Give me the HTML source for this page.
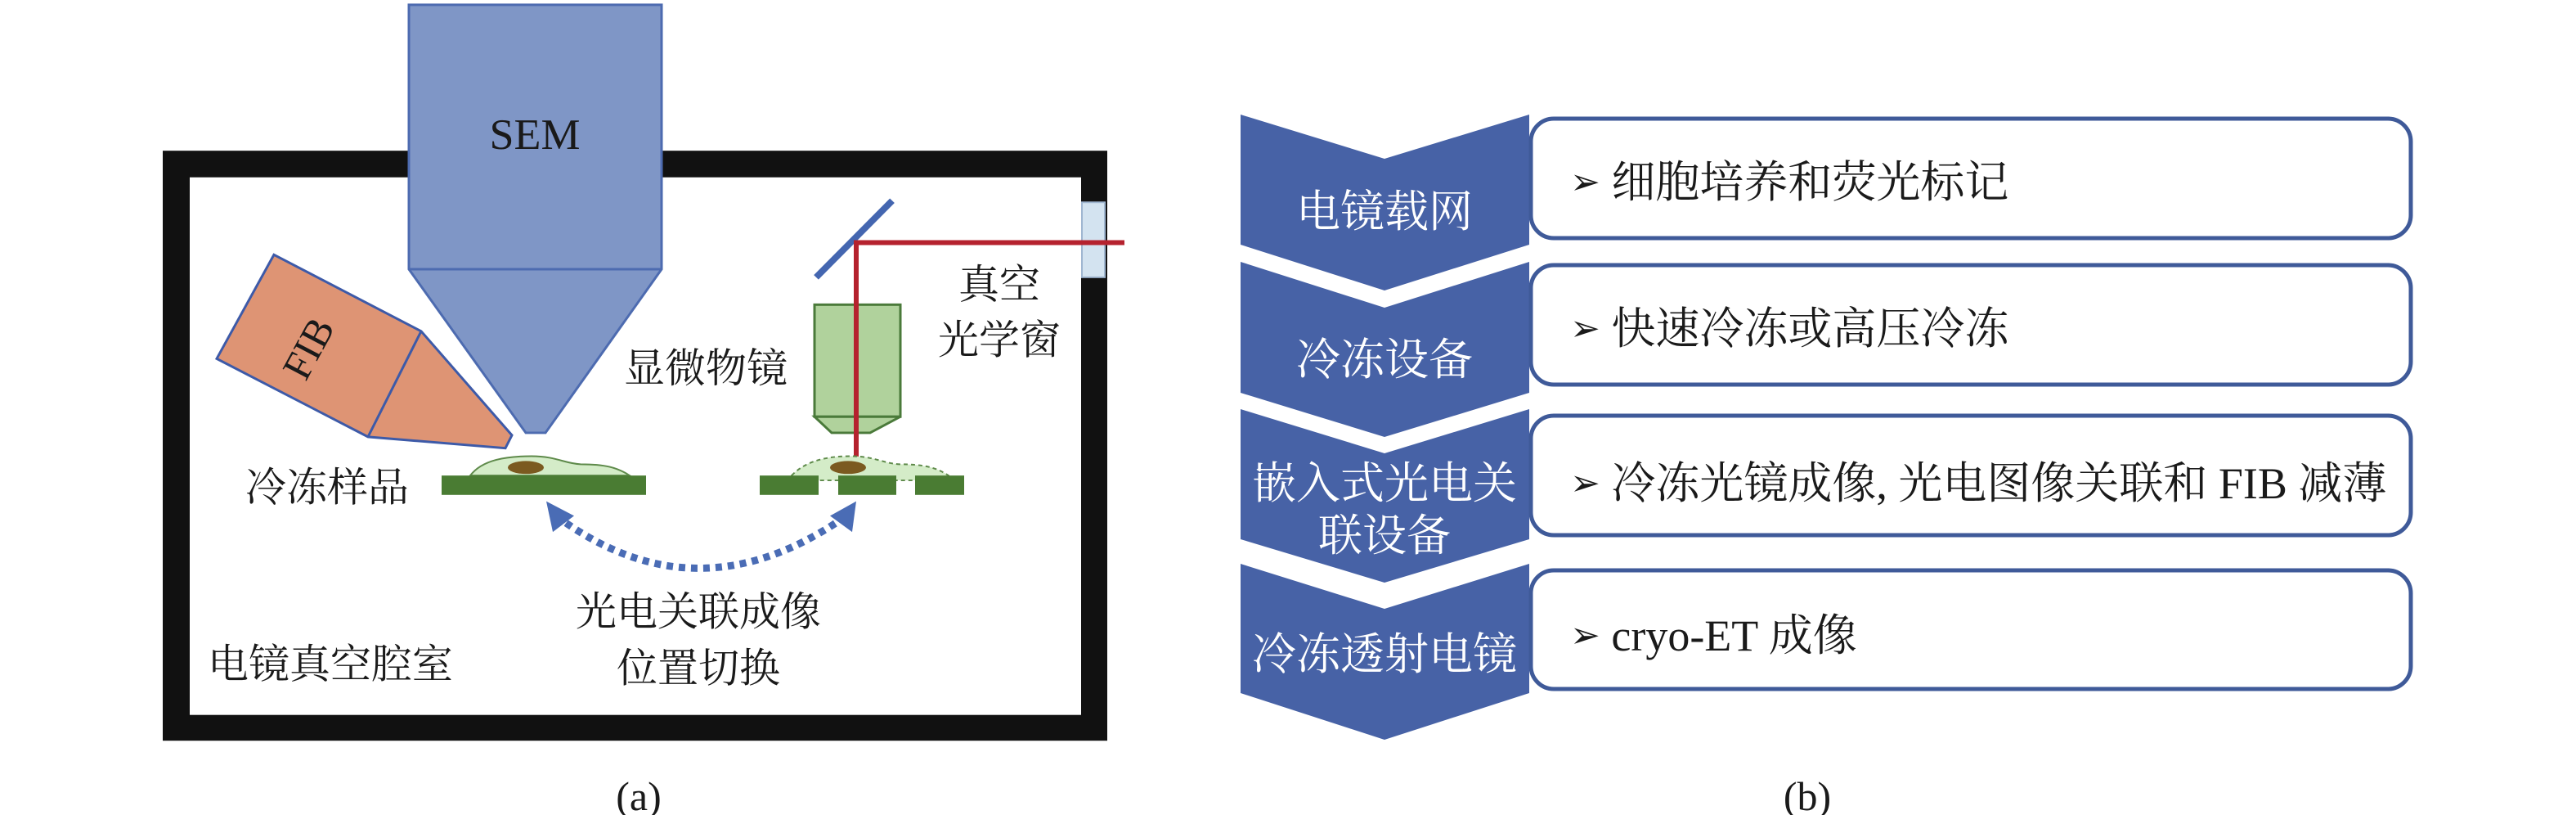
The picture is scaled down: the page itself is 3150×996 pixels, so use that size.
<!DOCTYPE html>
<html><head><meta charset="utf-8"><style>
html,body{margin:0;padding:0;background:#fff;}
svg{display:block;}
.s{font-family:"Liberation Serif","Noto Serif CJK SC",serif;}
</style></head><body>
<svg width="3150" height="996" viewBox="0 0 3150 996" xmlns="http://www.w3.org/2000/svg">
<g transform="scale(1,0.985)">
<!-- Panel a frame -->
<rect x="199" y="187" width="1155" height="732" fill="#111"/>
<rect x="232" y="220" width="1090" height="667" fill="#fff"/>
<rect x="1323" y="251" width="28" height="93" fill="#d3e3f0" stroke="#9fb6d0" stroke-width="2"/>
<polygon points="500,6 809,6 809,334 667,537 643,537 500,334" fill="#7f96c6" stroke="#4d6bb0" stroke-width="3"/>
<line x1="500" y1="334" x2="809" y2="334" stroke="#4d6bb0" stroke-width="3"/>
<text x="654" y="185" text-anchor="middle" class="s" font-size="54" fill="#1a1a1a">SEM</text>
<polygon points="335,316 515,411 626,540 618,556 450,542 265,445" fill="#de9474" stroke="#3d5aa8" stroke-width="3"/>
<line x1="515" y1="411" x2="450" y2="542" stroke="#3d5aa8" stroke-width="3"/>
<text x="0" y="0" class="s" font-size="50" fill="#1a1a1a" text-anchor="middle" transform="translate(392,440) rotate(-62)">FIB</text>
<line x1="998" y1="344" x2="1091" y2="249" stroke="#4466b0" stroke-width="8"/>
<rect x="996" y="378" width="105" height="139" fill="#b0d29c" stroke="#4a7a3a" stroke-width="3"/>
<polygon points="996,517 1101,517 1064,537 1017,537" fill="#b0d29c" stroke="#4a7a3a" stroke-width="3"/>
<polyline points="1047,575 1047,301 1375,301" fill="none" stroke="#b5222e" stroke-width="6"/>
<path d="M575,590 C590,570 620,566 650,566 C680,566 690,575 710,576 C740,576 755,580 770,590 Z" fill="#d4ecc8" stroke="#5e8a4a" stroke-width="2"/>
<ellipse cx="643" cy="580" rx="22" ry="8" fill="#7b5a20"/>
<rect x="540" y="590" width="250" height="24" fill="#4a7c33"/>
<path d="M968,590 C985,572 1010,566 1040,566 C1070,566 1080,575 1100,576 C1130,576 1145,580 1160,590 L1160,596 L968,596 Z" fill="#d4ecc8" stroke="#5e8a4a" stroke-width="2" stroke-dasharray="5,4"/>
<ellipse cx="1037" cy="580" rx="22" ry="8" fill="#7b5a20"/>
<rect x="929" y="590" width="72" height="24" fill="#4a7c33"/>
<rect x="1025" y="590" width="71" height="24" fill="#4a7c33"/>
<rect x="1119" y="590" width="60" height="24" fill="#4a7c33"/>
<path d="M680,640 Q852,770 1035,640" fill="none" stroke="#4a6cb5" stroke-width="9" stroke-dasharray="8,7"/>
<polygon points="668,622 702,640 676,660" fill="#4a6cb5"/>
<polygon points="1047,622 1042,660 1015,640" fill="#4a6cb5"/>
<g class="s" font-size="50" fill="#1a1a1a">
<text x="300" y="622">冷冻样品</text>
<text x="763" y="474">显微物镜</text>
<text x="1222" y="370" text-anchor="middle">真空</text>
<text x="1222" y="439" text-anchor="middle">光学窗</text>
<text x="854" y="776" text-anchor="middle">光电关联成像</text>
<text x="854" y="846" text-anchor="middle">位置切换</text>
<text x="254" y="841">电镜真空腔室</text>
</g>
</g>
<g class="s" font-size="50" fill="#1a1a1a">
<text x="781" y="990" text-anchor="middle">(a)</text>
<text x="2210" y="990" text-anchor="middle">(b)</text>
</g>
<g fill="#4762a6">
<polygon points="1517,140 1693,194 1870,140 1870,299 1693,355 1517,299"/>
<polygon points="1517,320 1693,376 1870,320 1870,480 1693,534 1517,480"/>
<polygon points="1517,500 1693,554 1870,500 1870,659 1693,712 1517,659"/>
<polygon points="1517,689 1693,744 1870,689 1870,847 1693,904 1517,847"/>
</g>
<g class="s" font-size="54" fill="#fff" text-anchor="middle">
<text x="1693" y="277">电镜载网</text>
<text x="1693" y="458">冷冻设备</text>
<text x="1693" y="609">嵌入式光电关</text>
<text x="1693" y="673">联设备</text>
<text x="1693" y="818">冷冻透射电镜</text>
</g>
<g fill="#fff" stroke="#3f5a99" stroke-width="5">
<rect x="1872" y="145" width="1076" height="146" rx="28"/>
<rect x="1872" y="324" width="1076" height="146" rx="28"/>
<rect x="1872" y="508" width="1076" height="146" rx="28"/>
<rect x="1872" y="697" width="1076" height="145" rx="28"/>
</g>
<g class="s" font-size="54" fill="#1a1a1a">
<text x="1920" y="241"><tspan font-size="44" dy="-4">➢</tspan><tspan dy="4"> 细胞培养和荧光标记</tspan></text>
<text x="1920" y="420"><tspan font-size="44" dy="-4">➢</tspan><tspan dy="4"> 快速冷冻或高压冷冻</tspan></text>
<text x="1920" y="609"><tspan font-size="44" dy="-4">➢</tspan><tspan dy="4"> 冷冻光镜成像, 光电图像关联和 FIB 减薄</tspan></text>
<text x="1920" y="795"><tspan font-size="44" dy="-4">➢</tspan><tspan dy="4"> cryo-ET 成像</tspan></text>
</g>
</svg>
</body></html>
